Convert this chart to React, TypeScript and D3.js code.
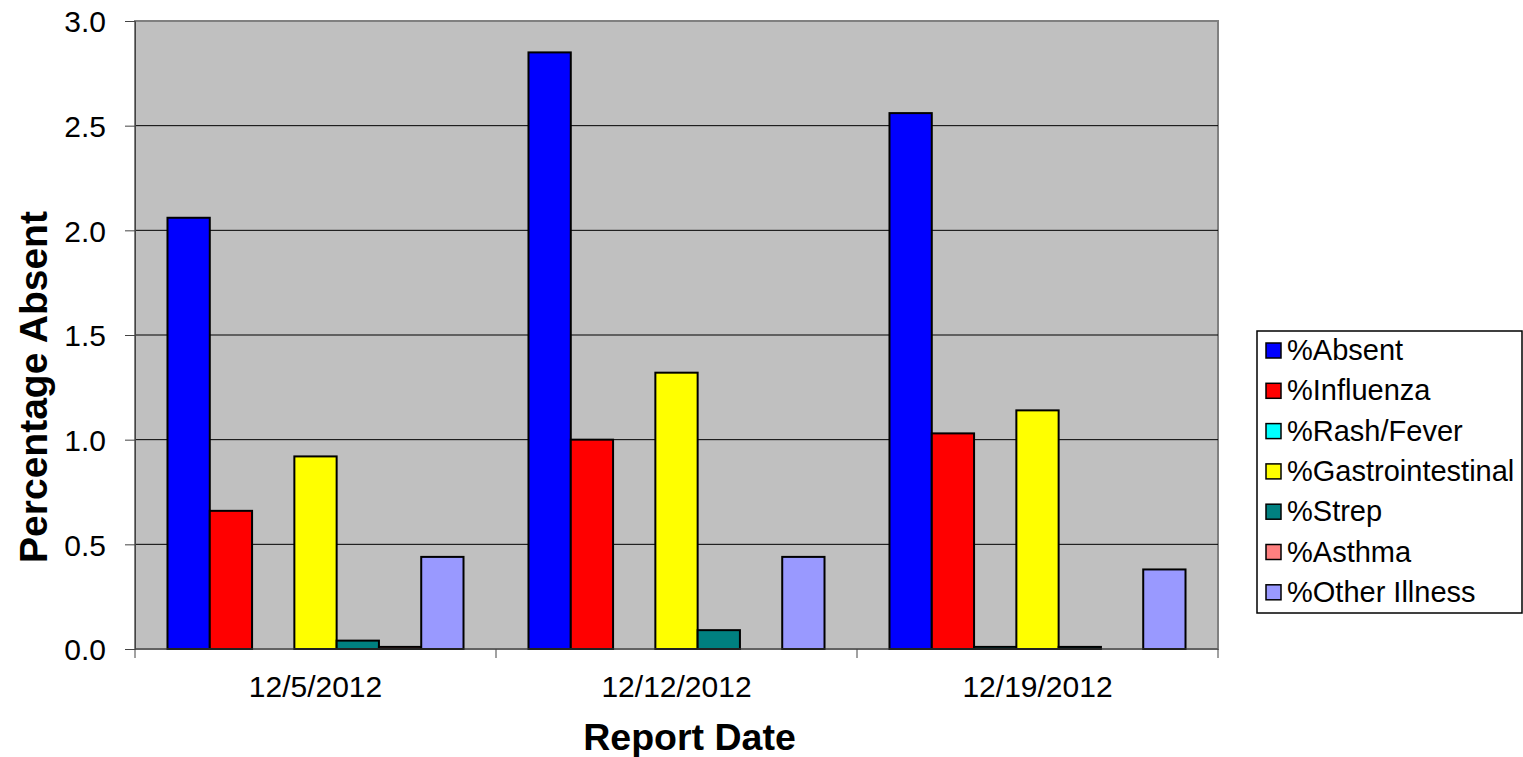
import { useEffect, useRef } from "react";
import * as d3 from "d3";

const dates = ["12/5/2012", "12/12/2012", "12/19/2012"];
const seriesNames = [
  "%Absent",
  "%Influenza",
  "%Rash/Fever",
  "%Gastrointestinal",
  "%Strep",
  "%Asthma",
  "%Other Illness",
];
const seriesColors = ["#0000FF", "#FF0000", "#00FFFF", "#FFFF00", "#008080", "#FF8080", "#9999FF"];
// values per date, in series order
const absent = [2.06, 2.85, 2.56];
const influenza = [0.66, 1.0, 1.03];
const rashFever = [0, 0, 0.01];
const gastro = [0.92, 1.32, 1.14];
const strep = [0.04, 0.09, 0.01];
const asthma = [0.01, 0, 0];
const otherIllness = [0.44, 0.44, 0.38];
const yTicks = [0, 0.5, 1.0, 1.5, 2.0, 2.5, 3.0];

const allSeries = [absent, influenza, rashFever, gastro, strep, asthma, otherIllness];

export default function App() {
  const ref = useRef<SVGSVGElement>(null);
  const totalWidth = 1523;
  const totalHeight = 757;
  const margin = { top: 21, left: 135, right: 305, bottom: 108 };
  const width = totalWidth - margin.left - margin.right;
  const height = totalHeight - margin.top - margin.bottom;

  useEffect(() => {
    draw();
  });

  function draw() {
    const svg = d3.select(ref.current);
    svg.selectAll("*").remove();
    const font = "'Liberation Sans', Arial, sans-serif";

    const plot = svg
      .append("g")
      .attr("transform", "translate(" + margin.left + "," + margin.top + ")");

    // plot background
    plot
      .append("rect")
      .attr("width", width)
      .attr("height", height)
      .attr("fill", "#C0C0C0")
      .attr("stroke", "#808080")
      .attr("stroke-width", 2);

    const y = d3.scaleLinear().domain([0, 3]).range([height, 0]);
    const x0 = d3.scaleBand().domain(dates).range([0, width]).padding(0);
    const gap = x0.bandwidth() * 0.09;
    const x1 = d3
      .scaleBand()
      .domain(seriesNames)
      .range([gap, x0.bandwidth() - gap])
      .padding(0);

    // gridlines
    plot
      .selectAll(".grid")
      .data(yTicks.filter((t) => t > 0 && t < 3))
      .enter()
      .append("line")
      .attr("x1", 0)
      .attr("x2", width)
      .attr("y1", (d) => y(d))
      .attr("y2", (d) => y(d))
      .attr("stroke", "#000")
      .attr("stroke-width", 1);

    // bars
    const groups = plot
      .selectAll(".grp")
      .data(dates)
      .enter()
      .append("g")
      .attr("transform", (d) => "translate(" + x0(d) + ",0)");
    groups
      .selectAll("rect")
      .data((d, i) =>
        seriesNames.map((s, j) => ({ s, v: allSeries[j][i], c: seriesColors[j] }))
      )
      .enter()
      .filter((d) => d.v > 0)
      .append("rect")
      .attr("x", (d) => x1(d.s)!)
      .attr("y", (d) => y(d.v))
      .attr("width", x1.bandwidth())
      .attr("height", (d) => height - y(d.v))
      .attr("fill", (d) => d.c)
      .attr("stroke", "#000")
      .attr("stroke-width", 2);

    // Y axis
    const yAxis = d3
      .axisLeft(y)
      .tickValues(yTicks)
      .tickFormat(d3.format(".1f"))
      .tickSize(10)
      .tickPadding(19);
    const yg = plot.append("g").call(yAxis);
    yg.select(".domain").attr("stroke", "#444");
    yg.selectAll("line").attr("stroke", "#444");
    yg.selectAll("text")
      .attr("font-size", 30)
      .attr("font-family", font)
      .attr("fill", "#000")
      .attr("x", -29)
      .attr("dy", "0.36em");

    // X axis
    const xg = plot.append("g").attr("transform", "translate(0," + height + ")");
    xg.append("line").attr("x1", 0).attr("x2", width).attr("stroke", "#444");
    xg.selectAll(".tk")
      .data([0, 1, 2, 3])
      .enter()
      .append("line")
      .attr("x1", (d) => (d < 3 ? x0(dates[d])! : width))
      .attr("x2", (d) => (d < 3 ? x0(dates[d])! : width))
      .attr("y1", 0)
      .attr("y2", 9)
      .attr("stroke", "#444");
    xg.selectAll(".lbl")
      .data(dates)
      .enter()
      .append("text")
      .attr("x", (d) => x0(d)! + x0.bandwidth() / 2)
      .attr("y", 48)
      .attr("text-anchor", "middle")
      .attr("font-size", 30)
      .attr("font-family", font)
      .text((d) => d);

    // axis titles
    plot
      .append("text")
      .attr("x", width / 2 + 13)
      .attr("y", height + 101)
      .attr("text-anchor", "middle")
      .attr("font-size", 37.5)
      .attr("font-weight", 700)
      .attr("font-family", font)
      .text("Report Date");
    plot
      .append("text")
      .attr("transform", "rotate(-90)")
      .attr("x", -366)
      .attr("y", -88)
      .attr("text-anchor", "middle")
      .attr("font-size", 39)
      .attr("font-weight", 700)
      .attr("font-family", font)
      .text("Percentage Absent");

    // legend
    const legend = svg.append("g").attr("transform", "translate(1257,331)");
    legend
      .append("rect")
      .attr("width", 265)
      .attr("height", 282)
      .attr("fill", "#fff")
      .attr("stroke", "#000")
      .attr("stroke-width", 1.5);
    const items = legend
      .selectAll(".item")
      .data(seriesNames)
      .enter()
      .append("g")
      .attr("transform", (d, i) => "translate(0," + (29 + i * 40.3) + ")");
    items
      .append("rect")
      .attr("x", 9)
      .attr("y", -17)
      .attr("width", 15)
      .attr("height", 15)
      .attr("fill", (d, i) => seriesColors[i])
      .attr("stroke", "#000")
      .attr("stroke-width", 1.5);
    items
      .append("text")
      .attr("x", 30)
      .attr("y", 0)
      .attr("font-size", 29)
      .attr("font-family", font)
      .text((d) => d);
  }

  return (
    <svg
      width={totalWidth}
      height={totalHeight}
      ref={ref}
      style={{ position: "absolute", left: 0, top: 0, background: "#fff" }}
    ></svg>
  );
}
